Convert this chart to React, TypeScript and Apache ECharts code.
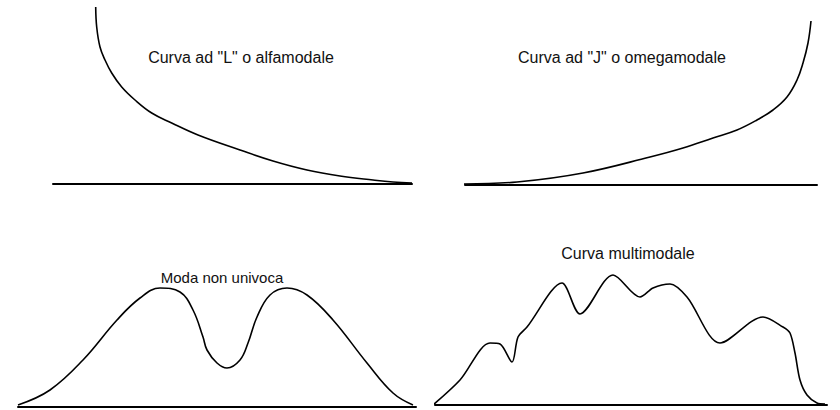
import React, { useEffect, useRef } from "react";
import * as echarts from "echarts";

// Panel titles
const titles = [
  'Curva ad "L" o alfamodale',
  'Curva ad "J" o omegamodale',
  "Moda non univoca",
  "Curva multimodale",
];

// Curve values per panel: [x, y] measured from the left end of the baseline / the baseline
const curveL: number[][] = [
  [42.7, 177], [43.7, 157], [47, 137], [52, 124], [58.7, 111], [68.7, 97], [82, 84],
  [98.7, 71], [118.7, 61], [145, 49], [187, 34], [220, 23], [254, 14], [287, 8],
  [320, 4], [340, 2], [359, 1],
];
const curveJ: number[][] = [
  [-3, 1], [52, 3], [118, 12], [185, 28], [218, 37], [248, 47], [272, 55], [292, 65],
  [308, 75], [322, 88], [332, 105], [338, 122], [343, 142], [346, 164],
];
const curveBimodal: number[][] = [
  [0, 2], [32, 17], [65, 47], [99, 87], [122, 109], [142, 119], [162, 115],
  [175, 97], [185, 70], [189, 57], [199, 44], [209, 39], [222, 47], [230, 64],
  [239, 90], [252, 112], [269, 119], [289, 112], [315, 87], [349, 44], [375, 14], [395, 2],
];
const curveMulti: number[][] = [
  [-2, 0], [25, 25], [55, 62], [65, 61], [77, 43], [83, 68], [92, 78], [127, 122],
  [145, 91], [178, 130], [205, 108], [218, 117], [235, 121], [252, 108], [285, 62],
  [328, 88], [348, 78], [355, 72], [360, 52], [365, 25], [372, 10], [382, 2], [390, 1],
];

// Axis extents per panel (x span of baseline, y span above baseline)
const xMax = [359, 352, 398, 392];
const yMax = [184, 185, 407, 405];

const FONT = "'Liberation Sans', Arial, Helvetica, sans-serif";

export default function App() {
  const ref = useRef<HTMLDivElement>(null);
  useEffect(() => {
    if (!ref.current) return;
    const chart = echarts.init(ref.current, null, { renderer: "svg" });
    const grids = [
      { left: 53, width: 359, bottom: 226, height: 184 },
      { left: 465, width: 352, bottom: 225, height: 185 },
      { left: 18, width: 398, bottom: 3, height: 407 },
      { left: 435, width: 392, bottom: 5, height: 405 },
    ];
    const curves = [curveL, curveJ, curveBimodal, curveMulti];
    const smooths = [0.4, 0.4, 0.4, 0.3];
    const titlePos = [
      [241, 57, 16],
      [622, 57, 16],
      [222, 277, 15],
      [628, 253, 16],
    ];
    chart.setOption({
      animation: false,
      backgroundColor: "#ffffff",
      grid: grids.map((g) => ({ ...g, containLabel: false })),
      xAxis: grids.map((_, i) => ({
        type: "value",
        gridIndex: i,
        min: 0,
        max: xMax[i],
        axisLine: { show: true, onZero: false, lineStyle: { color: "#000", width: 2 } },
        axisTick: { show: false },
        axisLabel: { show: false },
        splitLine: { show: false },
      })),
      yAxis: grids.map((_, i) => ({
        type: "value",
        gridIndex: i,
        min: 0,
        max: yMax[i],
        show: false,
        splitLine: { show: false },
      })),
      series: curves.map((c, i) => ({
        type: "line",
        xAxisIndex: i,
        yAxisIndex: i,
        data: c,
        smooth: smooths[i],
        showSymbol: false,
        symbol: "none",
        clip: false,
        lineStyle: { color: "#000", width: 1.6 },
      })),
      graphic: titles.map((t, i) => ({
        type: "text",
        x: titlePos[i][0],
        y: titlePos[i][1],
        style: {
          text: t,
          fill: "#111",
          font: `${titlePos[i][2]}px ${FONT}`,
          textAlign: "center",
          textVerticalAlign: "middle",
        },
      })),
    });
    return () => chart.dispose();
  }, []);
  return (
    <div
      ref={ref}
      style={{ position: "fixed", left: 0, top: 0, width: 840, height: 410 }}
    />
  );
}
